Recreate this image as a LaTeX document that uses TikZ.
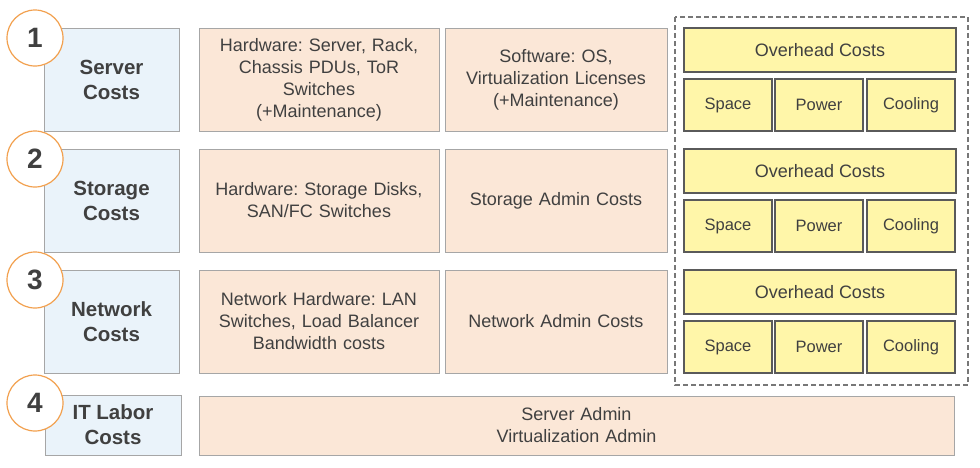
\documentclass[tikz,border=0pt]{standalone}
\usepackage{fontspec}
\setmainfont{Liberation Sans}
\frenchspacing
\usetikzlibrary{positioning}
\definecolor{txt}{HTML}{404040}
\definecolor{bluef}{HTML}{EAF3FA}
\definecolor{peachf}{HTML}{FBE7D7}
\definecolor{yelf}{HTML}{FFF6A9}
\definecolor{boxd}{HTML}{A6A6A6}
\definecolor{yeld}{HTML}{5A5A5A}
\definecolor{orng}{HTML}{F2A04E}
\definecolor{dashc}{HTML}{777777}
\tikzset{
  bluebox/.style={draw=boxd, line width=1pt, fill=bluef, inner sep=0pt, text=txt, align=center,
    font=\fontsize{20.5}{25}\selectfont\bfseries},
  peachbox/.style={draw=boxd, line width=1pt, fill=peachf, inner sep=0pt, text=txt, align=center,
    font=\fontsize{18}{22}\selectfont},
  ovbox/.style={draw=yeld, line width=1.2pt, fill=yelf, inner sep=0pt, text=txt, align=center,
    minimum width=272pt, minimum height=44pt, font=\fontsize{18}{22}\selectfont},
  smbox/.style={draw=yeld, line width=1.2pt, fill=yelf, inner sep=0pt, text=txt, align=center,
    minimum width=88pt, minimum height=52pt, font=\fontsize{16.5}{20}\selectfont},
  numcirc/.style={circle, draw=orng, line width=1.2pt, fill=white, inner sep=0pt, minimum size=56pt,
    text=txt, font=\fontsize{28}{30}\selectfont\bfseries},
  dashbox/.style={draw=dashc, line width=2.2pt, dash pattern=on 5pt off 3pt}
}
\begin{document}
\begin{tikzpicture}[x=1pt,y=-1pt]
\useasboundingbox (0,0) rectangle (980,467);
% dashed frame
\draw[dashbox] (675,17) rectangle (968,385);
% Row 1
\node[bluebox, minimum width=135pt, minimum height=103pt] (b1) at (111.5,79.5) {Server\\Costs};
\node[numcirc] (c1) at (35,38) {1};
\node[peachbox, minimum width=240pt, minimum height=103pt, text width=230pt] (h1) at (319,79.5)
  {Hardware: Server, Rack,\\Chassis PDUs, ToR\\Switches\\(+Maintenance)};
\node[peachbox, minimum width=222pt, minimum height=103pt, text width=215pt] (s1) at (556,79.5)
  {Software: OS,\\Virtualization Licenses\\(+Maintenance)};
\node[ovbox] (o1) at (820,50) {Overhead Costs};
\node[smbox] (sp1) at (728,105) {Space};
\node[smbox] (pw1) at (819,105) {Power};
\node[smbox] (co1) at (911,105) {Cooling};
% Row 2
\node[bluebox, minimum width=135pt, minimum height=103pt] (b2) at (111.5,200.5) {Storage\\Costs};
\node[numcirc] (c2) at (35,159) {2};
\node[peachbox, minimum width=240pt, minimum height=103pt, text width=230pt] (h2) at (319,200.5)
  {Hardware: Storage Disks,\\SAN/FC Switches};
\node[peachbox, minimum width=222pt, minimum height=103pt, text width=215pt] (s2) at (556,200.5)
  {Storage Admin Costs};
\node[ovbox] (o2) at (820,171) {Overhead Costs};
\node[smbox] (sp2) at (728,226) {Space};
\node[smbox] (pw2) at (819,226) {Power};
\node[smbox] (co2) at (911,226) {Cooling};
% Row 3
\node[bluebox, minimum width=135pt, minimum height=103pt] (b3) at (111.5,321.5) {Network\\Costs};
\node[numcirc] (c3) at (35,280) {3};
\node[peachbox, minimum width=240pt, minimum height=103pt, text width=230pt] (h3) at (319,321.5)
  {Network Hardware: LAN\\Switches, Load Balancer\\Bandwidth costs};
\node[peachbox, minimum width=222pt, minimum height=103pt, text width=215pt] (s3) at (556,321.5)
  {Network Admin Costs};
\node[ovbox] (o3) at (820,292) {Overhead Costs};
\node[smbox] (sp3) at (728,347) {Space};
\node[smbox] (pw3) at (819,347) {Power};
\node[smbox] (co3) at (911,347) {Cooling};
% Row 4
\node[bluebox, minimum width=136pt, minimum height=60pt] (b4) at (113,425) {IT Labor\\Costs};
\node[numcirc] (c4) at (35,403) {4};
\node[peachbox, minimum width=755pt, minimum height=59pt, text width=700pt] (h4) at (576.5,425.5)
  {Server Admin\\Virtualization Admin};
\end{tikzpicture}
\end{document}
